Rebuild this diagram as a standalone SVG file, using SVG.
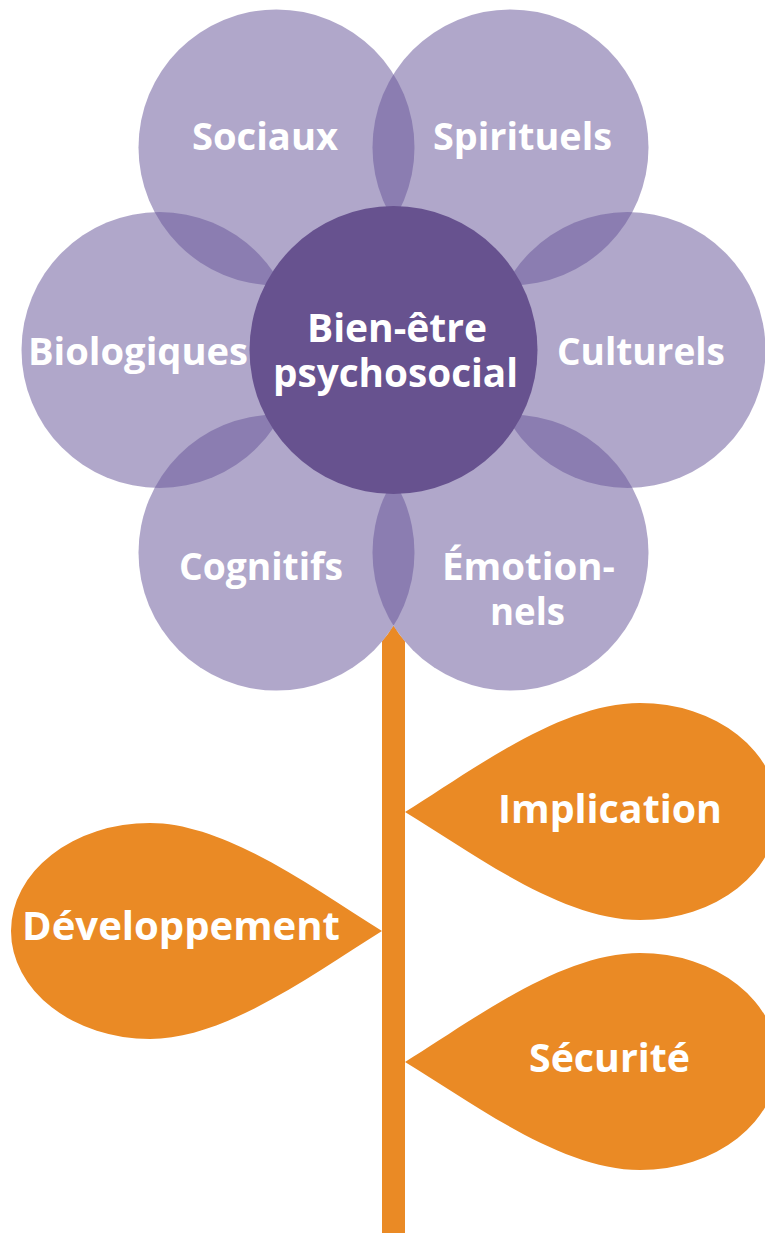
<svg xmlns="http://www.w3.org/2000/svg" width="765" height="1233" viewBox="0 0 765 1233">
  <style>
    .petal { fill: #6a589a; fill-opacity: 0.53; }
    .core { fill: #67528f; }
    .leaf { fill: #ea8a25; }
    .lbl { font-family: "Open Sans", "Noto Sans", "Liberation Sans", sans-serif; font-weight: 700; fill: #ffffff; text-anchor: middle; font-size: 38px; }
    .big { font-size: 39.5px; }
  </style>
  <rect width="765" height="1233" fill="#ffffff"/>

  <g id="connectors">
    <path id="stem" class="leaf" d="M382,641.6 A138,138 0 0 0 393.5,625.8 A138,138 0 0 0 405,641.6 L405,1233 L382,1233 Z"/>
  </g>

  <g id="leaf-implication">
    <path class="leaf" d="M405,812 C470,772 560,703 640,703 A138,108.5 0 0 1 640,920 C560,920 470,851 405,812 Z"/>
    <text class="lbl big" x="610" y="823" textLength="224" lengthAdjust="spacingAndGlyphs">Implication</text>
  </g>
  <g id="leaf-developpement">
    <path class="leaf" d="M382,931 C317,891 227,823 150,823 A139,108 0 0 0 150,1039 C227,1039 317,971 382,931 Z"/>
    <text class="lbl big" x="181" y="940" textLength="318" lengthAdjust="spacingAndGlyphs">Développement</text>
  </g>
  <g id="leaf-securite">
    <path class="leaf" d="M405,1062 C470,1022 560,953 640,953 A138,108.5 0 0 1 640,1170 C560,1170 470,1101 405,1062 Z"/>
    <text class="lbl big" x="609.5" y="1072" textLength="161" lengthAdjust="spacingAndGlyphs">Sécurité</text>
  </g>

  <g id="petal-sociaux">
    <circle class="petal" cx="276.5" cy="147.4" r="138"/>
  </g>
  <g id="petal-spirituels">
    <circle class="petal" cx="510.5" cy="147.4" r="138"/>
  </g>
  <g id="petal-biologiques">
    <circle class="petal" cx="159.5" cy="350" r="138"/>
  </g>
  <g id="petal-culturels">
    <circle class="petal" cx="627.5" cy="350" r="138"/>
  </g>
  <g id="petal-cognitifs">
    <circle class="petal" cx="276.5" cy="552.6" r="138"/>
  </g>
  <g id="petal-emotionnels">
    <circle class="petal" cx="510.5" cy="552.6" r="138"/>
  </g>

  <g id="center">
    <circle class="core" cx="393.5" cy="350" r="144"/>
    <text class="lbl big" x="397" y="342" textLength="180" lengthAdjust="spacingAndGlyphs">Bien-être</text>
    <text class="lbl big" x="395.5" y="387" textLength="245" lengthAdjust="spacingAndGlyphs">psychosocial</text>
  </g>

  <g id="labels">
    <text class="lbl" x="265" y="150" textLength="146" lengthAdjust="spacingAndGlyphs">Sociaux</text>
    <text class="lbl" x="522.5" y="150" textLength="179" lengthAdjust="spacingAndGlyphs">Spirituels</text>
    <text class="lbl" x="138" y="365" textLength="220" lengthAdjust="spacingAndGlyphs">Biologiques</text>
    <text class="lbl" x="641" y="365" textLength="168" lengthAdjust="spacingAndGlyphs">Culturels</text>
    <text class="lbl" x="261" y="580" textLength="164" lengthAdjust="spacingAndGlyphs">Cognitifs</text>
    <text class="lbl" x="528.5" y="580" textLength="173" lengthAdjust="spacingAndGlyphs">Émotion-</text>
    <text class="lbl" x="527.5" y="625" textLength="75" lengthAdjust="spacingAndGlyphs">nels</text>
  </g>
</svg>
